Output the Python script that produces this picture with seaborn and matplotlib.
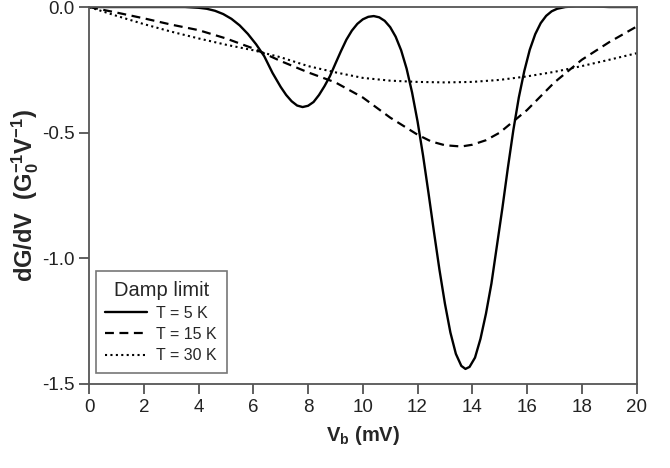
import matplotlib
matplotlib.use("Agg")
import matplotlib.pyplot as plt
import numpy as np
import pandas as pd
import seaborn as sns

# T = 5 K
vb_5k = [0, 1, 2, 3, 3.5, 4.0, 4.3, 4.6, 4.9, 5.2, 5.5, 5.8, 6.1, 6.4, 6.7, 7.0,
         7.2, 7.4, 7.6, 7.8, 8.0, 8.2, 8.4, 8.6, 8.8, 9.0, 9.2, 9.4, 9.6, 9.8,
         10.0, 10.2, 10.4, 10.6, 10.8, 11.0, 11.2, 11.4, 11.6, 11.8, 12.0, 12.2,
         12.4, 12.6, 12.8, 13.0, 13.2, 13.4, 13.6, 13.75, 13.9, 14.1, 14.3, 14.5,
         14.7, 14.9, 15.1, 15.3, 15.5, 15.7, 15.9, 16.1, 16.3, 16.5, 16.7, 16.9,
         17.1, 17.4, 17.8, 18.5, 19.0, 20.0]
dgdv_5k = [0, 0, 0, 0, 0, -0.003, -0.007, -0.015, -0.028, -0.047, -0.073, -0.107,
           -0.148, -0.196, -0.262, -0.318, -0.350, -0.375, -0.392, -0.398, -0.393,
           -0.378, -0.350, -0.315, -0.275, -0.225, -0.176, -0.130, -0.094, -0.067,
           -0.049, -0.039, -0.036, -0.041, -0.055, -0.080, -0.118, -0.172, -0.245,
           -0.340, -0.455, -0.590, -0.740, -0.895, -1.045, -1.180, -1.295, -1.380,
           -1.428, -1.440, -1.432, -1.395, -1.320, -1.220, -1.100, -0.950, -0.800,
           -0.640, -0.490, -0.360, -0.255, -0.170, -0.108, -0.064, -0.035, -0.017,
           -0.007, 0.000, 0.003, 0.002, 0.000, 0.000]

# T = 15 K
vb_15k = [0, 1, 2, 3, 4, 5, 6, 7, 8, 9, 10, 11, 12, 12.5, 13, 13.6, 14, 14.5,
          15, 16, 17, 18, 19, 20]
dgdv_15k = [0, -0.022, -0.045, -0.070, -0.092, -0.125, -0.165, -0.215, -0.260,
            -0.300, -0.360, -0.440, -0.508, -0.535, -0.550, -0.555, -0.548,
            -0.530, -0.500, -0.410, -0.300, -0.210, -0.140, -0.078]

# T = 30 K
vb_30k = [0, 1, 2, 3, 4, 5, 6, 7, 8, 9, 10, 11, 12, 13, 14, 15, 16, 17, 18,
          19, 20]
dgdv_30k = [0, -0.035, -0.068, -0.098, -0.125, -0.150, -0.172, -0.200, -0.235,
            -0.260, -0.282, -0.293, -0.298, -0.300, -0.298, -0.290, -0.276,
            -0.258, -0.235, -0.210, -0.184]

x_ticks = [0, 2, 4, 6, 8, 10, 12, 14, 16, 18, 20]
y_ticks = [0.0, -0.5, -1.0, -1.5]

sns.set_theme(style="ticks")
plt.rcParams["font.family"] = ["Liberation Sans", "DejaVu Sans"]
plt.rcParams["mathtext.fontset"] = "custom"
plt.rcParams["mathtext.rm"] = "Liberation Sans"
plt.rcParams["mathtext.bf"] = "Liberation Sans:bold"
plt.rcParams["mathtext.default"] = "bf"

fig = plt.figure(figsize=(6.7, 4.68), dpi=100)
ax = fig.add_axes([0.133, 0.1795, 0.817, 0.8055])

sns.lineplot(x=vb_5k, y=dgdv_5k, ax=ax, color="black", lw=1.7,
             label="T = 5 K")
sns.lineplot(x=vb_15k, y=dgdv_15k, ax=ax, color="black", lw=1.6,
             label="T = 15 K").lines[-1].set_dashes((4, 2.5))
sns.lineplot(x=vb_30k, y=dgdv_30k, ax=ax, color="black", lw=1.5,
             label="T = 30 K").lines[-1].set_dashes((1, 1.6))

ax.set_xlim(0, 20)
ax.set_ylim(-1.5, 0)
ax.set_xticks(x_ticks)
ax.set_yticks(y_ticks)
ax.set_yticklabels([f"{v:.1f}" for v in y_ticks])
ax.tick_params(axis="both", direction="out", length=7, width=1.2,
               color="#444444", labelsize=13.5, labelcolor="#222222")
for side in ["left", "right", "top", "bottom"]:
    ax.spines[side].set_visible(True)
    ax.spines[side].set_color("#555555")
    ax.spines[side].set_linewidth(1.3)

ax.set_xlabel("V$_b$ (mV)", fontsize=14.5, fontweight="bold", labelpad=6)
ax.set_ylabel("dG/dV  (G$_0^{-1}$V$^{-1}$)", fontsize=17,
              fontweight="bold", labelpad=1)

leg = ax.legend(title="Damp limit", loc="lower left", fontsize=11.5,
                title_fontsize=14.5, frameon=True, fancybox=False,
                edgecolor="#555555", handlelength=2.6, handletextpad=0.6,
                bbox_to_anchor=(0.012, 0.03), borderpad=0.6,
                labelspacing=0.38, borderaxespad=0)
leg.get_frame().set_linewidth(1.2)
leg._legend_box.align = "center"

fig.savefig("out.png", dpi=100)
